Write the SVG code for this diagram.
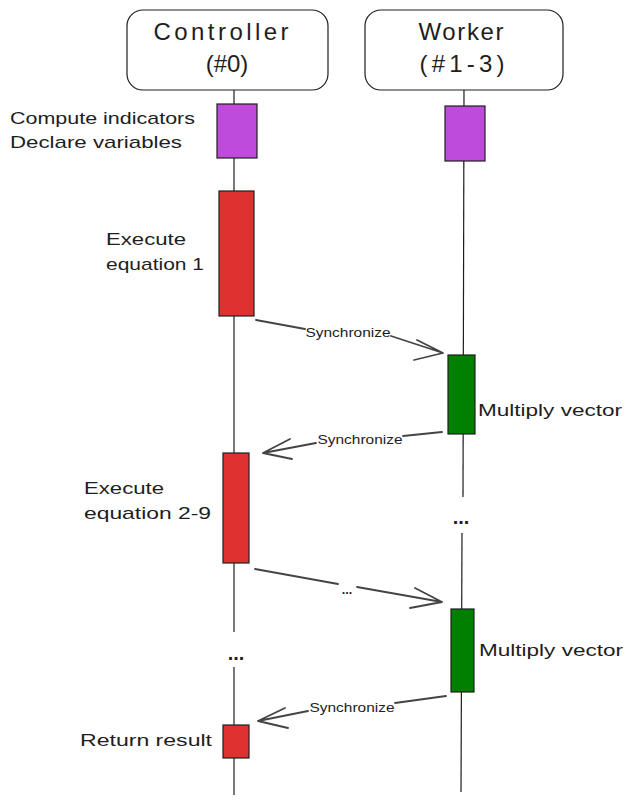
<svg xmlns="http://www.w3.org/2000/svg" width="633" height="802" viewBox="0 0 633 802">
<style>
  .hdr{fill:#fff;stroke:#1e1e1e;stroke-width:1.2}
  .life{stroke:#1e1e1e;stroke-width:1.2;fill:none}
  .act{stroke:#1e1e1e;stroke-width:1.2}
  .purple{fill:#be4bdb}
  .red{fill:#e03131}
  .green{fill:#007f00}
  .arrow{stroke:#444;stroke-width:1.8;fill:none;stroke-linecap:round;stroke-linejoin:round}
  text{font-family:"Liberation Sans","DejaVu Sans",sans-serif;fill:#1e1e1e}
  .big{font-size:24px}
  .lbl{font-size:17px}
  .sm{font-size:12.5px}
  .dots{font-size:20px;font-weight:bold}
</style>
<rect width="633" height="802" fill="#fff"/>

<g id="lifelines">
  <line class="life" x1="234" y1="90" x2="234" y2="632"/>
  <line class="life" x1="234" y1="667" x2="234" y2="795"/>
  <line class="life" x1="464" y1="90" x2="463" y2="497"/>
  <line class="life" x1="462" y1="533" x2="461" y2="792"/>
</g>

<g id="controller">
  <rect class="hdr" x="127" y="10" width="201" height="80" rx="16"/>
  <text class="big" x="221" y="40" text-anchor="middle" textLength="135" lengthAdjust="spacing">Controller</text>
  <text class="big" x="227" y="72" text-anchor="middle">(#0)</text>
</g>

<g id="worker">
  <rect class="hdr" x="365" y="10" width="198" height="80" rx="16"/>
  <text class="big" x="461" y="40" text-anchor="middle" textLength="85" lengthAdjust="spacing">Worker</text>
  <text class="big" x="462" y="72" text-anchor="middle" textLength="85" lengthAdjust="spacing">(#1-3)</text>
</g>

<g id="init-controller">
  <rect class="act purple" x="217" y="104" width="40" height="54"/>
  <text class="lbl" x="10" y="124" textLength="185" lengthAdjust="spacingAndGlyphs">Compute indicators</text>
  <text class="lbl" x="10" y="148" textLength="172" lengthAdjust="spacingAndGlyphs">Declare variables</text>
</g>

<g id="init-worker">
  <rect class="act purple" x="445" y="106" width="40" height="55"/>
</g>

<g id="exec1">
  <rect class="act red" x="219" y="191" width="35" height="125"/>
  <text class="lbl" x="106" y="245" textLength="80" lengthAdjust="spacingAndGlyphs">Execute</text>
  <text class="lbl" x="106" y="270" textLength="98" lengthAdjust="spacingAndGlyphs">equation 1</text>
</g>

<g id="mult1">
  <rect class="act green" x="448" y="355" width="27" height="79"/>
  <text class="lbl" x="478" y="416" textLength="144" lengthAdjust="spacingAndGlyphs">Multiply vector</text>
</g>

<g id="exec2">
  <rect class="act red" x="223" y="453" width="26" height="110"/>
  <text class="lbl" x="84" y="494" textLength="80" lengthAdjust="spacingAndGlyphs">Execute</text>
  <text class="lbl" x="84" y="519" textLength="127" lengthAdjust="spacingAndGlyphs">equation 2-9</text>
</g>

<g id="worker-gap">
  <text class="dots" x="461" y="524" text-anchor="middle">...</text>
</g>

<g id="mult2">
  <rect class="act green" x="451" y="609" width="23" height="83"/>
  <text class="lbl" x="479" y="656" textLength="144" lengthAdjust="spacingAndGlyphs">Multiply vector</text>
</g>

<g id="controller-gap">
  <text class="dots" x="236" y="660" text-anchor="middle">...</text>
</g>

<g id="result">
  <rect class="act red" x="223" y="725" width="26" height="33"/>
  <text class="lbl" x="80" y="746" textLength="132" lengthAdjust="spacingAndGlyphs">Return result</text>
</g>

<g id="connectors">
  <path class="arrow" d="M256 320 L305 329 M391 336 L443 353 M417 340 L443 353 L414 360"/>
  <text class="sm" x="348" y="337" text-anchor="middle" textLength="85" lengthAdjust="spacingAndGlyphs">Synchronize</text>

  <path class="arrow" d="M442 432 L403 436 M316 443 L263 453 M290 439 L263 453 L292 459"/>
  <text class="sm" x="360" y="444" text-anchor="middle" textLength="85" lengthAdjust="spacingAndGlyphs">Synchronize</text>

  <path class="arrow" d="M255 569 L338 584 M357 587 L442 602 M415 588 L442 602 L410 608"/>
  <text class="sm" x="347" y="594" text-anchor="middle" font-weight="bold">...</text>

  <path class="arrow" d="M446 696 L395 703 M308 711 L258 721 M285 708 L258 721 L288 728"/>
  <text class="sm" x="352" y="712" text-anchor="middle" textLength="85" lengthAdjust="spacingAndGlyphs">Synchronize</text>
</g>
</svg>
